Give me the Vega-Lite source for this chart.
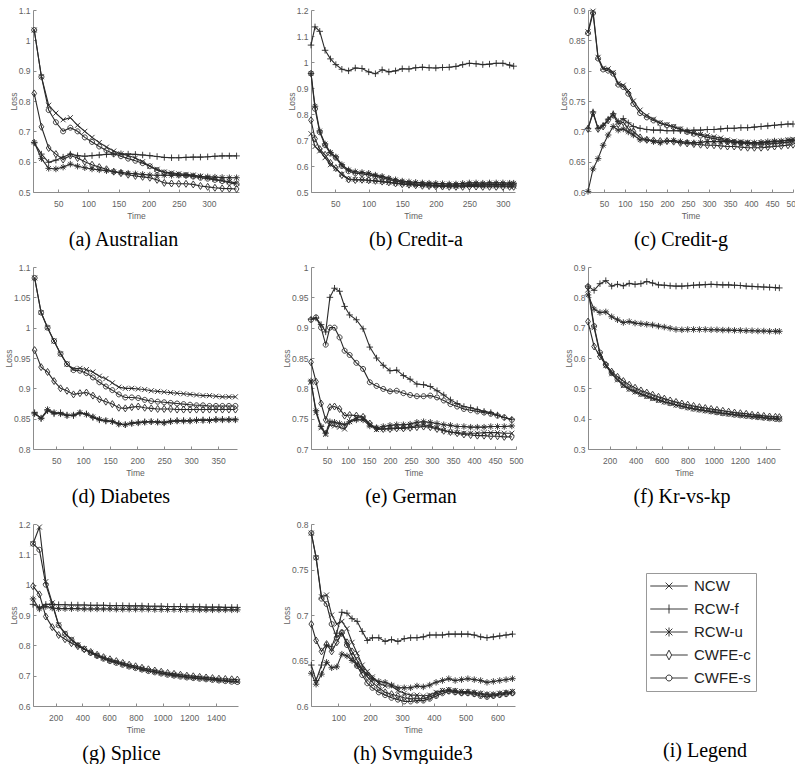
{
"$schema":"https://vega.github.io/schema/vega-lite/v6.json",
"background":"white",
"padding":{"left":4,"top":6,"right":-6,"bottom":0},
"bounds":"flush",
"columns":3,
"spacing":{"row":75,"column":72},
"resolve":{"scale":{"shape":"independent"},"legend":{"shape":"independent"}},
"config":{
"view":{"stroke":null},
"font":"Liberation Sans",
"axis":{"grid":false,"domainColor":"#8c8c8c","tickColor":"#8c8c8c","tickSize":-3,"labelColor":"#626262","labelFontSize":8.5,"titleFontSize":8.5,"titleFontWeight":"normal","titleColor":"#626262","labelFont":"Liberation Sans","titleFont":"Liberation Sans","labelOverlap":false},
"axisX":{"labelPadding":10,"titlePadding":4,"labelFlush":false},
"axisY":{"labelPadding":6,"titlePadding":0},
"title":{"orient":"bottom","frame":"group","anchor":"middle","offset":10,"font":"Liberation Serif","fontSize":20,"fontWeight":"normal","color":"#000000"},
"line":{"color":"#2a2a2a","strokeWidth":1.1},
"point":{"filled":false,"color":"#2a2a2a","size":25,"strokeWidth":0.9,"opacity":1}
},
"datasets":{
"a":[
{"t":10,"NCW":1.034,"RCWf":0.662,"RCWu":0.664,"CWFEc":0.825,"CWFEs":1.034},
{"t":22,"NCW":0.88,"RCWf":0.625,"RCWu":0.61,"CWFEc":0.715,"CWFEs":0.88},
{"t":34,"NCW":0.786,"RCWf":0.598,"RCWu":0.578,"CWFEc":0.645,"CWFEs":0.77},
{"t":46,"NCW":0.76,"RCWf":0.605,"RCWu":0.576,"CWFEc":0.625,"CWFEs":0.73},
{"t":58,"NCW":0.738,"RCWf":0.615,"RCWu":0.582,"CWFEc":0.607,"CWFEs":0.7},
{"t":70,"NCW":0.745,"RCWf":0.625,"RCWu":0.592,"CWFEc":0.62,"CWFEs":0.712},
{"t":82,"NCW":0.72,"RCWf":0.62,"RCWu":0.585,"CWFEc":0.612,"CWFEs":0.7},
{"t":94,"NCW":0.7,"RCWf":0.618,"RCWu":0.58,"CWFEc":0.6,"CWFEs":0.68},
{"t":106,"NCW":0.68,"RCWf":0.62,"RCWu":0.576,"CWFEc":0.59,"CWFEs":0.665},
{"t":118,"NCW":0.663,"RCWf":0.622,"RCWu":0.573,"CWFEc":0.582,"CWFEs":0.65},
{"t":130,"NCW":0.648,"RCWf":0.624,"RCWu":0.57,"CWFEc":0.575,"CWFEs":0.637},
{"t":142,"NCW":0.635,"RCWf":0.625,"RCWu":0.567,"CWFEc":0.567,"CWFEs":0.626},
{"t":154,"NCW":0.626,"RCWf":0.626,"RCWu":0.565,"CWFEc":0.562,"CWFEs":0.618},
{"t":166,"NCW":0.62,"RCWf":0.625,"RCWu":0.562,"CWFEc":0.557,"CWFEs":0.61},
{"t":178,"NCW":0.612,"RCWf":0.624,"RCWu":0.56,"CWFEc":0.553,"CWFEs":0.603},
{"t":190,"NCW":0.6,"RCWf":0.622,"RCWu":0.558,"CWFEc":0.55,"CWFEs":0.595},
{"t":202,"NCW":0.585,"RCWf":0.62,"RCWu":0.556,"CWFEc":0.547,"CWFEs":0.585},
{"t":214,"NCW":0.575,"RCWf":0.617,"RCWu":0.555,"CWFEc":0.54,"CWFEs":0.572},
{"t":226,"NCW":0.566,"RCWf":0.614,"RCWu":0.555,"CWFEc":0.53,"CWFEs":0.564},
{"t":238,"NCW":0.563,"RCWf":0.613,"RCWu":0.555,"CWFEc":0.528,"CWFEs":0.56},
{"t":250,"NCW":0.56,"RCWf":0.613,"RCWu":0.555,"CWFEc":0.527,"CWFEs":0.557},
{"t":262,"NCW":0.558,"RCWf":0.614,"RCWu":0.554,"CWFEc":0.527,"CWFEs":0.555},
{"t":274,"NCW":0.556,"RCWf":0.615,"RCWu":0.553,"CWFEc":0.525,"CWFEs":0.551},
{"t":286,"NCW":0.552,"RCWf":0.615,"RCWu":0.551,"CWFEc":0.52,"CWFEs":0.547},
{"t":298,"NCW":0.547,"RCWf":0.616,"RCWu":0.55,"CWFEc":0.517,"CWFEs":0.544},
{"t":310,"NCW":0.542,"RCWf":0.618,"RCWu":0.549,"CWFEc":0.514,"CWFEs":0.54},
{"t":322,"NCW":0.538,"RCWf":0.619,"RCWu":0.548,"CWFEc":0.512,"CWFEs":0.536},
{"t":334,"NCW":0.534,"RCWf":0.619,"RCWu":0.547,"CWFEc":0.511,"CWFEs":0.531},
{"t":346,"NCW":0.53,"RCWf":0.619,"RCWu":0.547,"CWFEc":0.51,"CWFEs":0.526}
],
"b":[
{"t":14,"NCW":0.724,"RCWf":1.065,"RCWu":0.956,"CWFEc":0.776,"CWFEs":0.956},
{"t":20,"NCW":0.675,"RCWf":1.135,"RCWu":0.83,"CWFEc":0.705,"CWFEs":0.82},
{"t":27,"NCW":0.658,"RCWf":1.118,"RCWu":0.735,"CWFEc":0.665,"CWFEs":0.73},
{"t":35,"NCW":0.632,"RCWf":1.045,"RCWu":0.685,"CWFEc":0.643,"CWFEs":0.68},
{"t":43,"NCW":0.605,"RCWf":1.012,"RCWu":0.652,"CWFEc":0.612,"CWFEs":0.648},
{"t":51,"NCW":0.59,"RCWf":0.99,"RCWu":0.635,"CWFEc":0.592,"CWFEs":0.632},
{"t":60,"NCW":0.568,"RCWf":0.972,"RCWu":0.605,"CWFEc":0.565,"CWFEs":0.6},
{"t":70,"NCW":0.55,"RCWf":0.966,"RCWu":0.585,"CWFEc":0.548,"CWFEs":0.58},
{"t":80,"NCW":0.548,"RCWf":0.977,"RCWu":0.578,"CWFEc":0.546,"CWFEs":0.572},
{"t":90,"NCW":0.547,"RCWf":0.975,"RCWu":0.575,"CWFEc":0.547,"CWFEs":0.57},
{"t":100,"NCW":0.544,"RCWf":0.962,"RCWu":0.572,"CWFEc":0.545,"CWFEs":0.566},
{"t":110,"NCW":0.542,"RCWf":0.955,"RCWu":0.565,"CWFEc":0.543,"CWFEs":0.56},
{"t":120,"NCW":0.54,"RCWf":0.97,"RCWu":0.56,"CWFEc":0.54,"CWFEs":0.555},
{"t":130,"NCW":0.537,"RCWf":0.962,"RCWu":0.553,"CWFEc":0.537,"CWFEs":0.548},
{"t":140,"NCW":0.534,"RCWf":0.966,"RCWu":0.547,"CWFEc":0.533,"CWFEs":0.542},
{"t":150,"NCW":0.532,"RCWf":0.974,"RCWu":0.542,"CWFEc":0.53,"CWFEs":0.537},
{"t":160,"NCW":0.53,"RCWf":0.973,"RCWu":0.539,"CWFEc":0.528,"CWFEs":0.533},
{"t":170,"NCW":0.528,"RCWf":0.978,"RCWu":0.537,"CWFEc":0.526,"CWFEs":0.531},
{"t":180,"NCW":0.527,"RCWf":0.98,"RCWu":0.535,"CWFEc":0.524,"CWFEs":0.53},
{"t":190,"NCW":0.526,"RCWf":0.978,"RCWu":0.534,"CWFEc":0.523,"CWFEs":0.528},
{"t":200,"NCW":0.525,"RCWf":0.977,"RCWu":0.533,"CWFEc":0.522,"CWFEs":0.527},
{"t":210,"NCW":0.524,"RCWf":0.979,"RCWu":0.532,"CWFEc":0.521,"CWFEs":0.526},
{"t":220,"NCW":0.523,"RCWf":0.98,"RCWu":0.531,"CWFEc":0.52,"CWFEs":0.526},
{"t":230,"NCW":0.523,"RCWf":0.983,"RCWu":0.531,"CWFEc":0.52,"CWFEs":0.526},
{"t":240,"NCW":0.524,"RCWf":0.99,"RCWu":0.533,"CWFEc":0.52,"CWFEs":0.527},
{"t":250,"NCW":0.525,"RCWf":0.995,"RCWu":0.535,"CWFEc":0.521,"CWFEs":0.529},
{"t":260,"NCW":0.525,"RCWf":0.993,"RCWu":0.535,"CWFEc":0.521,"CWFEs":0.529},
{"t":270,"NCW":0.524,"RCWf":0.99,"RCWu":0.534,"CWFEc":0.52,"CWFEs":0.528},
{"t":280,"NCW":0.524,"RCWf":0.992,"RCWu":0.535,"CWFEc":0.52,"CWFEs":0.529},
{"t":290,"NCW":0.524,"RCWf":0.995,"RCWu":0.535,"CWFEc":0.52,"CWFEs":0.529},
{"t":300,"NCW":0.524,"RCWf":0.995,"RCWu":0.535,"CWFEc":0.52,"CWFEs":0.529},
{"t":310,"NCW":0.523,"RCWf":0.988,"RCWu":0.534,"CWFEc":0.52,"CWFEs":0.528},
{"t":316,"NCW":0.523,"RCWf":0.984,"RCWu":0.534,"CWFEc":0.52,"CWFEs":0.528}
],
"c":[
{"t":12,"NCW":0.864,"RCWf":0.705,"RCWu":0.601,"CWFEc":0.704,"CWFEs":0.862},
{"t":24,"NCW":0.898,"RCWf":0.732,"RCWu":0.638,"CWFEc":0.73,"CWFEs":0.895},
{"t":36,"NCW":0.822,"RCWf":0.705,"RCWu":0.655,"CWFEc":0.704,"CWFEs":0.82},
{"t":48,"NCW":0.804,"RCWf":0.71,"RCWu":0.677,"CWFEc":0.708,"CWFEs":0.802},
{"t":60,"NCW":0.803,"RCWf":0.72,"RCWu":0.694,"CWFEc":0.718,"CWFEs":0.8},
{"t":72,"NCW":0.797,"RCWf":0.729,"RCWu":0.708,"CWFEc":0.727,"CWFEs":0.795},
{"t":84,"NCW":0.779,"RCWf":0.716,"RCWu":0.702,"CWFEc":0.712,"CWFEs":0.777},
{"t":96,"NCW":0.776,"RCWf":0.721,"RCWu":0.704,"CWFEc":0.715,"CWFEs":0.773},
{"t":108,"NCW":0.767,"RCWf":0.714,"RCWu":0.699,"CWFEc":0.704,"CWFEs":0.762},
{"t":120,"NCW":0.75,"RCWf":0.708,"RCWu":0.694,"CWFEc":0.7,"CWFEs":0.745},
{"t":136,"NCW":0.735,"RCWf":0.705,"RCWu":0.686,"CWFEc":0.69,"CWFEs":0.73},
{"t":152,"NCW":0.726,"RCWf":0.703,"RCWu":0.686,"CWFEc":0.686,"CWFEs":0.723},
{"t":168,"NCW":0.72,"RCWf":0.702,"RCWu":0.683,"CWFEc":0.685,"CWFEs":0.718},
{"t":184,"NCW":0.714,"RCWf":0.702,"RCWu":0.681,"CWFEc":0.684,"CWFEs":0.713},
{"t":200,"NCW":0.711,"RCWf":0.701,"RCWu":0.684,"CWFEc":0.684,"CWFEs":0.71},
{"t":216,"NCW":0.708,"RCWf":0.701,"RCWu":0.685,"CWFEc":0.683,"CWFEs":0.707},
{"t":232,"NCW":0.704,"RCWf":0.701,"RCWu":0.683,"CWFEc":0.681,"CWFEs":0.703},
{"t":248,"NCW":0.7,"RCWf":0.701,"RCWu":0.682,"CWFEc":0.68,"CWFEs":0.699},
{"t":264,"NCW":0.697,"RCWf":0.702,"RCWu":0.681,"CWFEc":0.679,"CWFEs":0.696},
{"t":280,"NCW":0.695,"RCWf":0.702,"RCWu":0.682,"CWFEc":0.678,"CWFEs":0.693},
{"t":296,"NCW":0.693,"RCWf":0.703,"RCWu":0.683,"CWFEc":0.677,"CWFEs":0.69},
{"t":312,"NCW":0.691,"RCWf":0.703,"RCWu":0.683,"CWFEc":0.677,"CWFEs":0.688},
{"t":328,"NCW":0.689,"RCWf":0.704,"RCWu":0.683,"CWFEc":0.676,"CWFEs":0.686},
{"t":344,"NCW":0.686,"RCWf":0.705,"RCWu":0.683,"CWFEc":0.675,"CWFEs":0.684},
{"t":360,"NCW":0.684,"RCWf":0.705,"RCWu":0.682,"CWFEc":0.675,"CWFEs":0.682},
{"t":376,"NCW":0.683,"RCWf":0.706,"RCWu":0.681,"CWFEc":0.674,"CWFEs":0.681},
{"t":392,"NCW":0.682,"RCWf":0.706,"RCWu":0.681,"CWFEc":0.673,"CWFEs":0.68},
{"t":408,"NCW":0.681,"RCWf":0.707,"RCWu":0.681,"CWFEc":0.673,"CWFEs":0.679},
{"t":424,"NCW":0.681,"RCWf":0.708,"RCWu":0.682,"CWFEc":0.673,"CWFEs":0.679},
{"t":440,"NCW":0.682,"RCWf":0.709,"RCWu":0.683,"CWFEc":0.674,"CWFEs":0.679},
{"t":456,"NCW":0.683,"RCWf":0.71,"RCWu":0.684,"CWFEc":0.675,"CWFEs":0.68},
{"t":472,"NCW":0.684,"RCWf":0.711,"RCWu":0.684,"CWFEc":0.676,"CWFEs":0.681},
{"t":488,"NCW":0.686,"RCWf":0.712,"RCWu":0.685,"CWFEc":0.677,"CWFEs":0.682},
{"t":500,"NCW":0.687,"RCWf":0.712,"RCWu":0.685,"CWFEc":0.678,"CWFEs":0.683}
],
"d":[
{"t":10,"NCW":1.082,"RCWf":0.86,"RCWu":0.858,"CWFEc":0.963,"CWFEs":1.082},
{"t":22,"NCW":1.025,"RCWf":0.85,"RCWu":0.851,"CWFEc":0.935,"CWFEs":1.025},
{"t":34,"NCW":1.0,"RCWf":0.863,"RCWu":0.865,"CWFEc":0.927,"CWFEs":1.0},
{"t":46,"NCW":0.978,"RCWf":0.858,"RCWu":0.86,"CWFEc":0.912,"CWFEs":0.978},
{"t":58,"NCW":0.957,"RCWf":0.86,"RCWu":0.858,"CWFEc":0.9,"CWFEs":0.957},
{"t":70,"NCW":0.94,"RCWf":0.856,"RCWu":0.855,"CWFEc":0.896,"CWFEs":0.94},
{"t":82,"NCW":0.932,"RCWf":0.855,"RCWu":0.856,"CWFEc":0.89,"CWFEs":0.93},
{"t":94,"NCW":0.933,"RCWf":0.859,"RCWu":0.86,"CWFEc":0.892,"CWFEs":0.929},
{"t":106,"NCW":0.931,"RCWf":0.858,"RCWu":0.857,"CWFEc":0.893,"CWFEs":0.925},
{"t":118,"NCW":0.927,"RCWf":0.852,"RCWu":0.853,"CWFEc":0.888,"CWFEs":0.918},
{"t":130,"NCW":0.92,"RCWf":0.848,"RCWu":0.849,"CWFEc":0.882,"CWFEs":0.91},
{"t":142,"NCW":0.916,"RCWf":0.846,"RCWu":0.847,"CWFEc":0.878,"CWFEs":0.903},
{"t":154,"NCW":0.909,"RCWf":0.846,"RCWu":0.845,"CWFEc":0.874,"CWFEs":0.897},
{"t":166,"NCW":0.902,"RCWf":0.842,"RCWu":0.841,"CWFEc":0.868,"CWFEs":0.89},
{"t":178,"NCW":0.9,"RCWf":0.84,"RCWu":0.84,"CWFEc":0.867,"CWFEs":0.885},
{"t":190,"NCW":0.9,"RCWf":0.843,"RCWu":0.842,"CWFEc":0.869,"CWFEs":0.885},
{"t":202,"NCW":0.899,"RCWf":0.844,"RCWu":0.843,"CWFEc":0.87,"CWFEs":0.884},
{"t":214,"NCW":0.898,"RCWf":0.845,"RCWu":0.844,"CWFEc":0.868,"CWFEs":0.881},
{"t":226,"NCW":0.896,"RCWf":0.845,"RCWu":0.845,"CWFEc":0.867,"CWFEs":0.879},
{"t":238,"NCW":0.895,"RCWf":0.845,"RCWu":0.844,"CWFEc":0.866,"CWFEs":0.878},
{"t":250,"NCW":0.894,"RCWf":0.844,"RCWu":0.843,"CWFEc":0.866,"CWFEs":0.877},
{"t":262,"NCW":0.893,"RCWf":0.846,"RCWu":0.845,"CWFEc":0.866,"CWFEs":0.876},
{"t":274,"NCW":0.892,"RCWf":0.847,"RCWu":0.846,"CWFEc":0.865,"CWFEs":0.875},
{"t":286,"NCW":0.891,"RCWf":0.847,"RCWu":0.846,"CWFEc":0.865,"CWFEs":0.874},
{"t":298,"NCW":0.89,"RCWf":0.847,"RCWu":0.846,"CWFEc":0.865,"CWFEs":0.873},
{"t":310,"NCW":0.889,"RCWf":0.848,"RCWu":0.847,"CWFEc":0.865,"CWFEs":0.872},
{"t":322,"NCW":0.888,"RCWf":0.848,"RCWu":0.847,"CWFEc":0.865,"CWFEs":0.872},
{"t":334,"NCW":0.888,"RCWf":0.848,"RCWu":0.847,"CWFEc":0.865,"CWFEs":0.871},
{"t":346,"NCW":0.887,"RCWf":0.849,"RCWu":0.848,"CWFEc":0.865,"CWFEs":0.871},
{"t":358,"NCW":0.886,"RCWf":0.849,"RCWu":0.848,"CWFEc":0.865,"CWFEs":0.871},
{"t":370,"NCW":0.886,"RCWf":0.849,"RCWu":0.848,"CWFEc":0.865,"CWFEs":0.871},
{"t":382,"NCW":0.886,"RCWf":0.849,"RCWu":0.848,"CWFEc":0.865,"CWFEs":0.871}
],
"e":[
{"t":12,"NCW":0.81,"RCWf":0.914,"RCWu":0.812,"CWFEc":0.843,"CWFEs":0.913},
{"t":24,"NCW":0.76,"RCWf":0.916,"RCWu":0.763,"CWFEc":0.811,"CWFEs":0.917},
{"t":36,"NCW":0.735,"RCWf":0.905,"RCWu":0.737,"CWFEc":0.775,"CWFEs":0.9},
{"t":47,"NCW":0.724,"RCWf":0.893,"RCWu":0.726,"CWFEc":0.748,"CWFEs":0.872},
{"t":57,"NCW":0.74,"RCWf":0.95,"RCWu":0.745,"CWFEc":0.769,"CWFEs":0.9},
{"t":68,"NCW":0.738,"RCWf":0.965,"RCWu":0.744,"CWFEc":0.77,"CWFEs":0.9},
{"t":80,"NCW":0.736,"RCWf":0.96,"RCWu":0.742,"CWFEc":0.766,"CWFEs":0.884},
{"t":92,"NCW":0.733,"RCWf":0.935,"RCWu":0.74,"CWFEc":0.755,"CWFEs":0.862},
{"t":104,"NCW":0.745,"RCWf":0.921,"RCWu":0.745,"CWFEc":0.756,"CWFEs":0.855},
{"t":120,"NCW":0.752,"RCWf":0.913,"RCWu":0.748,"CWFEc":0.755,"CWFEs":0.842},
{"t":136,"NCW":0.751,"RCWf":0.898,"RCWu":0.748,"CWFEc":0.753,"CWFEs":0.832},
{"t":152,"NCW":0.74,"RCWf":0.868,"RCWu":0.738,"CWFEc":0.742,"CWFEs":0.81},
{"t":168,"NCW":0.732,"RCWf":0.85,"RCWu":0.735,"CWFEc":0.734,"CWFEs":0.804},
{"t":184,"NCW":0.733,"RCWf":0.838,"RCWu":0.737,"CWFEc":0.733,"CWFEs":0.799},
{"t":200,"NCW":0.734,"RCWf":0.829,"RCWu":0.739,"CWFEc":0.733,"CWFEs":0.795},
{"t":216,"NCW":0.735,"RCWf":0.83,"RCWu":0.74,"CWFEc":0.734,"CWFEs":0.796},
{"t":232,"NCW":0.735,"RCWf":0.821,"RCWu":0.74,"CWFEc":0.734,"CWFEs":0.792},
{"t":248,"NCW":0.736,"RCWf":0.815,"RCWu":0.741,"CWFEc":0.735,"CWFEs":0.789},
{"t":264,"NCW":0.739,"RCWf":0.807,"RCWu":0.744,"CWFEc":0.736,"CWFEs":0.787},
{"t":280,"NCW":0.74,"RCWf":0.806,"RCWu":0.745,"CWFEc":0.737,"CWFEs":0.787},
{"t":296,"NCW":0.738,"RCWf":0.803,"RCWu":0.744,"CWFEc":0.736,"CWFEs":0.788},
{"t":312,"NCW":0.735,"RCWf":0.796,"RCWu":0.742,"CWFEc":0.733,"CWFEs":0.785},
{"t":328,"NCW":0.731,"RCWf":0.789,"RCWu":0.74,"CWFEc":0.73,"CWFEs":0.78},
{"t":344,"NCW":0.728,"RCWf":0.781,"RCWu":0.739,"CWFEc":0.728,"CWFEs":0.774},
{"t":360,"NCW":0.727,"RCWf":0.775,"RCWu":0.737,"CWFEc":0.726,"CWFEs":0.77},
{"t":376,"NCW":0.726,"RCWf":0.77,"RCWu":0.737,"CWFEc":0.724,"CWFEs":0.766},
{"t":392,"NCW":0.726,"RCWf":0.768,"RCWu":0.736,"CWFEc":0.723,"CWFEs":0.764},
{"t":408,"NCW":0.726,"RCWf":0.765,"RCWu":0.736,"CWFEc":0.722,"CWFEs":0.762},
{"t":424,"NCW":0.727,"RCWf":0.762,"RCWu":0.736,"CWFEc":0.722,"CWFEs":0.76},
{"t":440,"NCW":0.727,"RCWf":0.76,"RCWu":0.737,"CWFEc":0.721,"CWFEs":0.758},
{"t":456,"NCW":0.727,"RCWf":0.756,"RCWu":0.737,"CWFEc":0.721,"CWFEs":0.755},
{"t":472,"NCW":0.726,"RCWf":0.752,"RCWu":0.737,"CWFEc":0.72,"CWFEs":0.752},
{"t":490,"NCW":0.726,"RCWf":0.749,"RCWu":0.738,"CWFEc":0.72,"CWFEs":0.748}
],
"f":[
{"t":33,"NCW":0.825,"RCWf":0.837,"RCWu":0.808,"CWFEc":0.72,"CWFEs":0.835},
{"t":80,"NCW":0.7,"RCWf":0.823,"RCWu":0.761,"CWFEc":0.638,"CWFEs":0.705},
{"t":125,"NCW":0.612,"RCWf":0.845,"RCWu":0.75,"CWFEc":0.605,"CWFEs":0.618},
{"t":170,"NCW":0.575,"RCWf":0.855,"RCWu":0.752,"CWFEc":0.577,"CWFEs":0.578},
{"t":215,"NCW":0.548,"RCWf":0.837,"RCWu":0.736,"CWFEc":0.555,"CWFEs":0.55},
{"t":260,"NCW":0.528,"RCWf":0.843,"RCWu":0.726,"CWFEc":0.538,"CWFEs":0.53},
{"t":305,"NCW":0.509,"RCWf":0.838,"RCWu":0.717,"CWFEc":0.524,"CWFEs":0.511},
{"t":350,"NCW":0.497,"RCWf":0.846,"RCWu":0.72,"CWFEc":0.512,"CWFEs":0.499},
{"t":395,"NCW":0.488,"RCWf":0.843,"RCWu":0.715,"CWFEc":0.502,"CWFEs":0.49},
{"t":440,"NCW":0.48,"RCWf":0.845,"RCWu":0.713,"CWFEc":0.493,"CWFEs":0.482},
{"t":485,"NCW":0.473,"RCWf":0.852,"RCWu":0.711,"CWFEc":0.486,"CWFEs":0.475},
{"t":530,"NCW":0.466,"RCWf":0.847,"RCWu":0.709,"CWFEc":0.479,"CWFEs":0.468},
{"t":575,"NCW":0.46,"RCWf":0.841,"RCWu":0.705,"CWFEc":0.472,"CWFEs":0.462},
{"t":620,"NCW":0.455,"RCWf":0.84,"RCWu":0.702,"CWFEc":0.466,"CWFEs":0.456},
{"t":665,"NCW":0.45,"RCWf":0.838,"RCWu":0.698,"CWFEc":0.46,"CWFEs":0.451},
{"t":710,"NCW":0.445,"RCWf":0.837,"RCWu":0.694,"CWFEc":0.455,"CWFEs":0.446},
{"t":755,"NCW":0.44,"RCWf":0.837,"RCWu":0.693,"CWFEc":0.45,"CWFEs":0.441},
{"t":800,"NCW":0.436,"RCWf":0.838,"RCWu":0.694,"CWFEc":0.446,"CWFEs":0.437},
{"t":845,"NCW":0.432,"RCWf":0.84,"RCWu":0.694,"CWFEc":0.442,"CWFEs":0.433},
{"t":890,"NCW":0.429,"RCWf":0.841,"RCWu":0.694,"CWFEc":0.438,"CWFEs":0.43},
{"t":935,"NCW":0.426,"RCWf":0.842,"RCWu":0.694,"CWFEc":0.435,"CWFEs":0.427},
{"t":980,"NCW":0.423,"RCWf":0.843,"RCWu":0.693,"CWFEc":0.432,"CWFEs":0.424},
{"t":1025,"NCW":0.42,"RCWf":0.842,"RCWu":0.693,"CWFEc":0.429,"CWFEs":0.421},
{"t":1070,"NCW":0.417,"RCWf":0.841,"RCWu":0.692,"CWFEc":0.426,"CWFEs":0.418},
{"t":1115,"NCW":0.415,"RCWf":0.841,"RCWu":0.692,"CWFEc":0.423,"CWFEs":0.416},
{"t":1160,"NCW":0.413,"RCWf":0.84,"RCWu":0.691,"CWFEc":0.42,"CWFEs":0.413},
{"t":1205,"NCW":0.411,"RCWf":0.839,"RCWu":0.691,"CWFEc":0.418,"CWFEs":0.411},
{"t":1250,"NCW":0.409,"RCWf":0.837,"RCWu":0.69,"CWFEc":0.416,"CWFEs":0.409},
{"t":1295,"NCW":0.407,"RCWf":0.836,"RCWu":0.69,"CWFEc":0.413,"CWFEs":0.407},
{"t":1340,"NCW":0.405,"RCWf":0.835,"RCWu":0.689,"CWFEc":0.411,"CWFEs":0.405},
{"t":1385,"NCW":0.403,"RCWf":0.834,"RCWu":0.689,"CWFEc":0.409,"CWFEs":0.403},
{"t":1430,"NCW":0.401,"RCWf":0.833,"RCWu":0.688,"CWFEc":0.407,"CWFEs":0.401},
{"t":1475,"NCW":0.4,"RCWf":0.832,"RCWu":0.688,"CWFEc":0.406,"CWFEs":0.399},
{"t":1505,"NCW":0.399,"RCWf":0.831,"RCWu":0.688,"CWFEc":0.405,"CWFEs":0.398}
],
"g":[
{"t":30,"NCW":1.135,"RCWf":0.935,"RCWu":0.953,"CWFEc":0.995,"CWFEs":1.135},
{"t":78,"NCW":1.19,"RCWf":0.925,"RCWu":0.92,"CWFEc":0.968,"CWFEs":1.115},
{"t":126,"NCW":1.01,"RCWf":0.935,"RCWu":0.928,"CWFEc":0.895,"CWFEs":1.0},
{"t":174,"NCW":0.94,"RCWf":0.935,"RCWu":0.923,"CWFEc":0.86,"CWFEs":0.935},
{"t":222,"NCW":0.868,"RCWf":0.934,"RCWu":0.921,"CWFEc":0.834,"CWFEs":0.866},
{"t":270,"NCW":0.84,"RCWf":0.934,"RCWu":0.921,"CWFEc":0.82,"CWFEs":0.838},
{"t":318,"NCW":0.82,"RCWf":0.933,"RCWu":0.921,"CWFEc":0.807,"CWFEs":0.818},
{"t":366,"NCW":0.802,"RCWf":0.933,"RCWu":0.921,"CWFEc":0.797,"CWFEs":0.8},
{"t":414,"NCW":0.789,"RCWf":0.933,"RCWu":0.92,"CWFEc":0.787,"CWFEs":0.787},
{"t":462,"NCW":0.777,"RCWf":0.932,"RCWu":0.92,"CWFEc":0.778,"CWFEs":0.775},
{"t":510,"NCW":0.767,"RCWf":0.932,"RCWu":0.92,"CWFEc":0.769,"CWFEs":0.765},
{"t":558,"NCW":0.758,"RCWf":0.932,"RCWu":0.92,"CWFEc":0.761,"CWFEs":0.756},
{"t":606,"NCW":0.75,"RCWf":0.931,"RCWu":0.92,"CWFEc":0.754,"CWFEs":0.748},
{"t":654,"NCW":0.744,"RCWf":0.931,"RCWu":0.919,"CWFEc":0.748,"CWFEs":0.742},
{"t":702,"NCW":0.738,"RCWf":0.931,"RCWu":0.919,"CWFEc":0.742,"CWFEs":0.736},
{"t":750,"NCW":0.732,"RCWf":0.93,"RCWu":0.919,"CWFEc":0.736,"CWFEs":0.73},
{"t":798,"NCW":0.727,"RCWf":0.93,"RCWu":0.919,"CWFEc":0.731,"CWFEs":0.725},
{"t":846,"NCW":0.722,"RCWf":0.93,"RCWu":0.919,"CWFEc":0.726,"CWFEs":0.72},
{"t":894,"NCW":0.717,"RCWf":0.929,"RCWu":0.919,"CWFEc":0.721,"CWFEs":0.715},
{"t":942,"NCW":0.713,"RCWf":0.929,"RCWu":0.918,"CWFEc":0.717,"CWFEs":0.711},
{"t":990,"NCW":0.709,"RCWf":0.929,"RCWu":0.918,"CWFEc":0.713,"CWFEs":0.707},
{"t":1038,"NCW":0.705,"RCWf":0.928,"RCWu":0.918,"CWFEc":0.709,"CWFEs":0.703},
{"t":1086,"NCW":0.702,"RCWf":0.928,"RCWu":0.918,"CWFEc":0.706,"CWFEs":0.7},
{"t":1134,"NCW":0.699,"RCWf":0.928,"RCWu":0.918,"CWFEc":0.703,"CWFEs":0.697},
{"t":1182,"NCW":0.696,"RCWf":0.927,"RCWu":0.918,"CWFEc":0.7,"CWFEs":0.694},
{"t":1230,"NCW":0.694,"RCWf":0.927,"RCWu":0.918,"CWFEc":0.698,"CWFEs":0.692},
{"t":1278,"NCW":0.692,"RCWf":0.927,"RCWu":0.917,"CWFEc":0.696,"CWFEs":0.69},
{"t":1326,"NCW":0.69,"RCWf":0.926,"RCWu":0.917,"CWFEc":0.694,"CWFEs":0.688},
{"t":1374,"NCW":0.688,"RCWf":0.926,"RCWu":0.917,"CWFEc":0.692,"CWFEs":0.686},
{"t":1422,"NCW":0.686,"RCWf":0.926,"RCWu":0.917,"CWFEc":0.69,"CWFEs":0.684},
{"t":1470,"NCW":0.684,"RCWf":0.925,"RCWu":0.917,"CWFEc":0.689,"CWFEs":0.682},
{"t":1518,"NCW":0.682,"RCWf":0.925,"RCWu":0.917,"CWFEc":0.688,"CWFEs":0.68},
{"t":1560,"NCW":0.681,"RCWf":0.925,"RCWu":0.917,"CWFEc":0.687,"CWFEs":0.679}
],
"h":[
{"t":15,"NCW":0.79,"RCWf":0.645,"RCWu":0.636,"CWFEc":0.69,"CWFEs":0.79},
{"t":30,"NCW":0.763,"RCWf":0.628,"RCWu":0.624,"CWFEc":0.672,"CWFEs":0.763},
{"t":47,"NCW":0.72,"RCWf":0.645,"RCWu":0.635,"CWFEc":0.66,"CWFEs":0.718},
{"t":63,"NCW":0.722,"RCWf":0.667,"RCWu":0.648,"CWFEc":0.668,"CWFEs":0.712},
{"t":79,"NCW":0.7,"RCWf":0.665,"RCWu":0.642,"CWFEc":0.66,"CWFEs":0.69},
{"t":95,"NCW":0.69,"RCWf":0.68,"RCWu":0.643,"CWFEc":0.67,"CWFEs":0.675},
{"t":111,"NCW":0.693,"RCWf":0.703,"RCWu":0.657,"CWFEc":0.68,"CWFEs":0.681},
{"t":127,"NCW":0.685,"RCWf":0.702,"RCWu":0.655,"CWFEc":0.67,"CWFEs":0.667},
{"t":143,"NCW":0.67,"RCWf":0.696,"RCWu":0.65,"CWFEc":0.66,"CWFEs":0.655},
{"t":159,"NCW":0.658,"RCWf":0.693,"RCWu":0.645,"CWFEc":0.65,"CWFEs":0.644},
{"t":175,"NCW":0.645,"RCWf":0.682,"RCWu":0.64,"CWFEc":0.64,"CWFEs":0.634},
{"t":191,"NCW":0.638,"RCWf":0.672,"RCWu":0.635,"CWFEc":0.632,"CWFEs":0.625},
{"t":207,"NCW":0.632,"RCWf":0.675,"RCWu":0.63,"CWFEc":0.626,"CWFEs":0.62},
{"t":227,"NCW":0.625,"RCWf":0.675,"RCWu":0.627,"CWFEc":0.62,"CWFEs":0.615},
{"t":247,"NCW":0.622,"RCWf":0.671,"RCWu":0.626,"CWFEc":0.615,"CWFEs":0.612},
{"t":267,"NCW":0.622,"RCWf":0.673,"RCWu":0.623,"CWFEc":0.613,"CWFEs":0.609},
{"t":287,"NCW":0.617,"RCWf":0.671,"RCWu":0.62,"CWFEc":0.611,"CWFEs":0.607},
{"t":307,"NCW":0.614,"RCWf":0.674,"RCWu":0.62,"CWFEc":0.609,"CWFEs":0.605},
{"t":327,"NCW":0.612,"RCWf":0.675,"RCWu":0.62,"CWFEc":0.608,"CWFEs":0.605},
{"t":347,"NCW":0.612,"RCWf":0.675,"RCWu":0.622,"CWFEc":0.608,"CWFEs":0.606},
{"t":367,"NCW":0.611,"RCWf":0.676,"RCWu":0.621,"CWFEc":0.608,"CWFEs":0.606},
{"t":387,"NCW":0.612,"RCWf":0.678,"RCWu":0.623,"CWFEc":0.61,"CWFEs":0.608},
{"t":407,"NCW":0.615,"RCWf":0.678,"RCWu":0.626,"CWFEc":0.613,"CWFEs":0.611},
{"t":427,"NCW":0.617,"RCWf":0.678,"RCWu":0.628,"CWFEc":0.616,"CWFEs":0.614},
{"t":447,"NCW":0.618,"RCWf":0.679,"RCWu":0.63,"CWFEc":0.617,"CWFEs":0.616},
{"t":467,"NCW":0.617,"RCWf":0.679,"RCWu":0.628,"CWFEc":0.616,"CWFEs":0.615},
{"t":487,"NCW":0.616,"RCWf":0.679,"RCWu":0.629,"CWFEc":0.615,"CWFEs":0.614},
{"t":507,"NCW":0.616,"RCWf":0.679,"RCWu":0.63,"CWFEc":0.615,"CWFEs":0.614},
{"t":527,"NCW":0.615,"RCWf":0.678,"RCWu":0.629,"CWFEc":0.614,"CWFEs":0.613},
{"t":547,"NCW":0.614,"RCWf":0.676,"RCWu":0.628,"CWFEc":0.613,"CWFEs":0.611},
{"t":567,"NCW":0.613,"RCWf":0.675,"RCWu":0.626,"CWFEc":0.612,"CWFEs":0.61},
{"t":587,"NCW":0.613,"RCWf":0.676,"RCWu":0.627,"CWFEc":0.612,"CWFEs":0.611},
{"t":607,"NCW":0.614,"RCWf":0.677,"RCWu":0.628,"CWFEc":0.613,"CWFEs":0.612},
{"t":627,"NCW":0.615,"RCWf":0.678,"RCWu":0.629,"CWFEc":0.614,"CWFEs":0.613},
{"t":647,"NCW":0.616,"RCWf":0.679,"RCWu":0.63,"CWFEc":0.615,"CWFEs":0.614}
],
"lg":[{"s":"NCW"},{"s":"RCW-f"},{"s":"RCW-u"},{"s":"CWFE-c"},{"s":"CWFE-s"}]
},
"concat":[
{"data":{"name":"a"},"width":206,"height":182,"title":{"text":"(a) Australian","dx":-12.5},
"transform":[{"fold":["NCW","RCWf","RCWu","CWFEc","CWFEs"],"as":["s","v"]}],
"encoding":{"x":{"field":"t","type":"quantitative","scale":{"domain":[8,350],"nice":false,"zero":false},"axis":{"title":"Time","values":[50,100,150,200,250,300],"format":"d"}},
"y":{"field":"v","type":"quantitative","scale":{"domain":[0.5,1.1],"nice":false,"zero":false},"axis":{"title":"Loss","values":[0.5,0.6,0.7,0.8,0.9,1,1.1],"format":".2~f"}}},
"layer":[{"mark":"line","encoding":{"detail":{"field":"s"}}},
{"mark":"point","encoding":{"shape":{"field":"s","type":"nominal","scale":{"domain":["NCW","RCWf","RCWu","CWFEc","CWFEs"],"range":["M-1,-1L1,1M-1,1L1,-1","M-1.3,0L1.3,0M0,-1.3L0,1.3","M-1.3,0L1.3,0M0,-1.3L0,1.3M-0.9,-0.9L0.9,0.9M-0.9,0.9L0.9,-0.9","M0,-1.4L0.95,0L0,1.4L-0.95,0Z","M1,0A1,1,0,1,1,-1,0A1,1,0,1,1,1,0Z"]},"legend":null}}}]},
{"data":{"name":"b"},"width":204,"height":182,"title":{"text":"(b) Credit-a","dx":3},
"transform":[{"fold":["NCW","RCWf","RCWu","CWFEc","CWFEs"],"as":["s","v"]}],
"encoding":{"x":{"field":"t","type":"quantitative","scale":{"domain":[14,318],"nice":false,"zero":false},"axis":{"title":"Time","values":[50,100,150,200,250,300],"format":"d"}},
"y":{"field":"v","type":"quantitative","scale":{"domain":[0.5,1.2],"nice":false,"zero":false},"axis":{"title":"Loss","values":[0.5,0.6,0.7,0.8,0.9,1,1.1,1.2],"format":".2~f"}}},
"layer":[{"mark":"line","encoding":{"detail":{"field":"s"}}},
{"mark":"point","encoding":{"shape":{"field":"s","type":"nominal","scale":{"domain":["NCW","RCWf","RCWu","CWFEc","CWFEs"],"range":["M-1,-1L1,1M-1,1L1,-1","M-1.3,0L1.3,0M0,-1.3L0,1.3","M-1.3,0L1.3,0M0,-1.3L0,1.3M-0.9,-0.9L0.9,0.9M-0.9,0.9L0.9,-0.9","M0,-1.4L0.95,0L0,1.4L-0.95,0Z","M1,0A1,1,0,1,1,-1,0A1,1,0,1,1,1,0Z"]},"legend":null}}}]},
{"data":{"name":"c"},"width":205,"height":182,"title":{"text":"(c) Credit-g","dx":-9.5},
"transform":[{"fold":["NCW","RCWf","RCWu","CWFEc","CWFEs"],"as":["s","v"]}],
"encoding":{"x":{"field":"t","type":"quantitative","scale":{"domain":[12,500],"nice":false,"zero":false},"axis":{"title":"Time","values":[50,100,150,200,250,300,350,400,450,500],"format":"d"}},
"y":{"field":"v","type":"quantitative","scale":{"domain":[0.6,0.9],"nice":false,"zero":false},"axis":{"title":"Loss","values":[0.6,0.65,0.7,0.75,0.8,0.85,0.9],"format":".2~f"}}},
"layer":[{"mark":"line","encoding":{"detail":{"field":"s"}}},
{"mark":"point","encoding":{"shape":{"field":"s","type":"nominal","scale":{"domain":["NCW","RCWf","RCWu","CWFEc","CWFEs"],"range":["M-1,-1L1,1M-1,1L1,-1","M-1.3,0L1.3,0M0,-1.3L0,1.3","M-1.3,0L1.3,0M0,-1.3L0,1.3M-0.9,-0.9L0.9,0.9M-0.9,0.9L0.9,-0.9","M0,-1.4L0.95,0L0,1.4L-0.95,0Z","M1,0A1,1,0,1,1,-1,0A1,1,0,1,1,1,0Z"]},"legend":null}}}]},
{"data":{"name":"d"},"width":204,"height":182,"title":{"text":"(d) Diabetes","dx":-14},
"transform":[{"fold":["NCW","RCWf","RCWu","CWFEc","CWFEs"],"as":["s","v"]}],
"encoding":{"x":{"field":"t","type":"quantitative","scale":{"domain":[7,385],"nice":false,"zero":false},"axis":{"title":"Time","values":[50,100,150,200,250,300,350],"format":"d"}},
"y":{"field":"v","type":"quantitative","scale":{"domain":[0.8,1.1],"nice":false,"zero":false},"axis":{"title":"Loss","values":[0.8,0.85,0.9,0.95,1,1.05,1.1],"format":".2~f"}}},
"layer":[{"mark":"line","encoding":{"detail":{"field":"s"}}},
{"mark":"point","encoding":{"shape":{"field":"s","type":"nominal","scale":{"domain":["NCW","RCWf","RCWu","CWFEc","CWFEs"],"range":["M-1,-1L1,1M-1,1L1,-1","M-1.3,0L1.3,0M0,-1.3L0,1.3","M-1.3,0L1.3,0M0,-1.3L0,1.3M-0.9,-0.9L0.9,0.9M-0.9,0.9L0.9,-0.9","M0,-1.4L0.95,0L0,1.4L-0.95,0Z","M1,0A1,1,0,1,1,-1,0A1,1,0,1,1,1,0Z"]},"legend":null}}}]},
{"data":{"name":"e"},"width":205,"height":182,"title":{"text":"(e) German","dx":-2.5},
"transform":[{"fold":["NCW","RCWf","RCWu","CWFEc","CWFEs"],"as":["s","v"]}],
"encoding":{"x":{"field":"t","type":"quantitative","scale":{"domain":[12,500],"nice":false,"zero":false},"axis":{"title":"Time","values":[50,100,150,200,250,300,350,400,450,500],"format":"d"}},
"y":{"field":"v","type":"quantitative","scale":{"domain":[0.7,1.0],"nice":false,"zero":false},"axis":{"title":"Loss","values":[0.7,0.75,0.8,0.85,0.9,0.95,1],"format":".2~f"}}},
"layer":[{"mark":"line","encoding":{"detail":{"field":"s"}}},
{"mark":"point","encoding":{"shape":{"field":"s","type":"nominal","scale":{"domain":["NCW","RCWf","RCWu","CWFEc","CWFEs"],"range":["M-1,-1L1,1M-1,1L1,-1","M-1.3,0L1.3,0M0,-1.3L0,1.3","M-1.3,0L1.3,0M0,-1.3L0,1.3M-0.9,-0.9L0.9,0.9M-0.9,0.9L0.9,-0.9","M0,-1.4L0.95,0L0,1.4L-0.95,0Z","M1,0A1,1,0,1,1,-1,0A1,1,0,1,1,1,0Z"]},"legend":null}}}]},
{"data":{"name":"f"},"width":192,"height":182,"title":{"text":"(f) Kr-vs-kp","dx":-2},
"transform":[{"fold":["NCW","RCWf","RCWu","CWFEc","CWFEs"],"as":["s","v"]}],
"encoding":{"x":{"field":"t","type":"quantitative","scale":{"domain":[33,1510],"nice":false,"zero":false},"axis":{"title":"Time","values":[200,400,600,800,1000,1200,1400],"format":"d"}},
"y":{"field":"v","type":"quantitative","scale":{"domain":[0.3,0.9],"nice":false,"zero":false},"axis":{"title":"Loss","values":[0.3,0.4,0.5,0.6,0.7,0.8,0.9],"format":".2~f"}}},
"layer":[{"mark":"line","encoding":{"detail":{"field":"s"}}},
{"mark":"point","encoding":{"shape":{"field":"s","type":"nominal","scale":{"domain":["NCW","RCWf","RCWu","CWFEc","CWFEs"],"range":["M-1,-1L1,1M-1,1L1,-1","M-1.3,0L1.3,0M0,-1.3L0,1.3","M-1.3,0L1.3,0M0,-1.3L0,1.3M-0.9,-0.9L0.9,0.9M-0.9,0.9L0.9,-0.9","M0,-1.4L0.95,0L0,1.4L-0.95,0Z","M1,0A1,1,0,1,1,-1,0A1,1,0,1,1,1,0Z"]},"legend":null}}}]},
{"data":{"name":"g"},"width":205,"height":182,"title":{"text":"(g) Splice","dx":-14},
"transform":[{"fold":["NCW","RCWf","RCWu","CWFEc","CWFEs"],"as":["s","v"]}],
"encoding":{"x":{"field":"t","type":"quantitative","scale":{"domain":[30,1565],"nice":false,"zero":false},"axis":{"title":"Time","values":[200,400,600,800,1000,1200,1400],"format":"d"}},
"y":{"field":"v","type":"quantitative","scale":{"domain":[0.6,1.2],"nice":false,"zero":false},"axis":{"title":"Loss","values":[0.6,0.7,0.8,0.9,1,1.1,1.2],"format":".2~f"}}},
"layer":[{"mark":"line","encoding":{"detail":{"field":"s"}}},
{"mark":"point","encoding":{"shape":{"field":"s","type":"nominal","scale":{"domain":["NCW","RCWf","RCWu","CWFEc","CWFEs"],"range":["M-1,-1L1,1M-1,1L1,-1","M-1.3,0L1.3,0M0,-1.3L0,1.3","M-1.3,0L1.3,0M0,-1.3L0,1.3M-0.9,-0.9L0.9,0.9M-0.9,0.9L0.9,-0.9","M0,-1.4L0.95,0L0,1.4L-0.95,0Z","M1,0A1,1,0,1,1,-1,0A1,1,0,1,1,1,0Z"]},"legend":null}}}]},
{"data":{"name":"h"},"width":204,"height":182,"title":{"text":"(h) Svmguide3","dx":0},
"transform":[{"fold":["NCW","RCWf","RCWu","CWFEc","CWFEs"],"as":["s","v"]}],
"encoding":{"x":{"field":"t","type":"quantitative","scale":{"domain":[14,655],"nice":false,"zero":false},"axis":{"title":"Time","values":[100,200,300,400,500,600],"format":"d"}},
"y":{"field":"v","type":"quantitative","scale":{"domain":[0.6,0.8],"nice":false,"zero":false},"axis":{"title":"Loss","values":[0.6,0.65,0.7,0.75,0.8],"format":".2~f"}}},
"layer":[{"mark":"line","encoding":{"detail":{"field":"s"}}},
{"mark":"point","encoding":{"shape":{"field":"s","type":"nominal","scale":{"domain":["NCW","RCWf","RCWu","CWFEc","CWFEs"],"range":["M-1,-1L1,1M-1,1L1,-1","M-1.3,0L1.3,0M0,-1.3L0,1.3","M-1.3,0L1.3,0M0,-1.3L0,1.3M-0.9,-0.9L0.9,0.9M-0.9,0.9L0.9,-0.9","M0,-1.4L0.95,0L0,1.4L-0.95,0Z","M1,0A1,1,0,1,1,-1,0A1,1,0,1,1,1,0Z"]},"legend":null}}}]},
{"data":{"name":"lg"},"width":205,"height":182,"title":{"text":"(i) Legend","dx":14.5,"offset":35},
"mark":{"type":"point","size":0},
"encoding":{"shape":{"field":"s","type":"nominal","scale":{"domain":["NCW","RCW-f","RCW-u","CWFE-c","CWFE-s"],"range":["M-2.5,0L2.5,0M-0.45,-0.45L0.45,0.45M-0.45,0.45L0.45,-0.45","M-2.5,0L2.5,0M0,-0.6L0,0.6","M-2.5,0L2.5,0M0,-0.6L0,0.6M-0.45,-0.45L0.45,0.45M-0.45,0.45L0.45,-0.45","M-2.5,0L-0.35,0M0.35,0L2.5,0M0,-0.65L0.35,0L0,0.65L-0.35,0Z","M-2.5,0L-0.4,0M0.4,0L2.5,0M0.4,0A0.4,0.4,0,1,1,-0.4,0A0.4,0.4,0,1,1,0.4,0Z"]},
"legend":{"title":null,"orient":"none","legendX":58,"legendY":49,"strokeColor":"#999999","fillColor":"white","padding":5,"cornerRadius":0,"labelFont":"Liberation Sans","labelFontSize":15,"labelColor":"#222222","symbolSize":225,"symbolStrokeColor":"#222222","symbolStrokeWidth":1,"symbolFillColor":"transparent","symbolOpacity":1,"symbolOffset":10,"labelOffset":17,"rowPadding":7,"labelLimit":200}}}}
]
}
